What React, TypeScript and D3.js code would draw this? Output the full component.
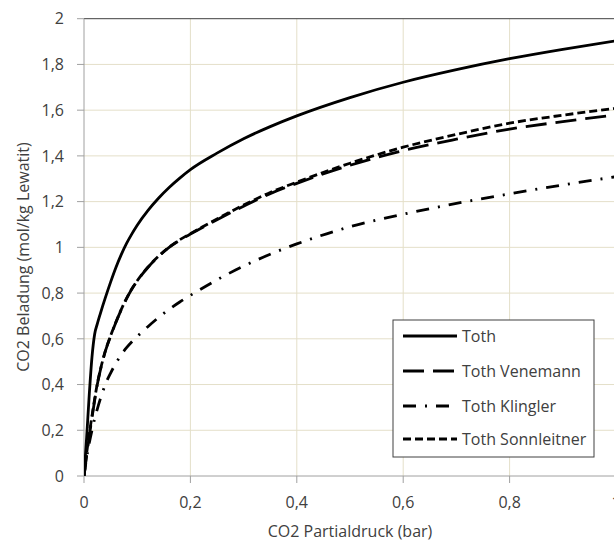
import React from "react";
import * as d3 from "d3";

const pressure = [0, 0.005, 0.01, 0.015, 0.02, 0.025, 0.03, 0.035, 0.04, 0.05, 0.06, 0.07, 0.08, 0.09, 0.1, 0.12, 0.14, 0.16, 0.18, 0.2, 0.25, 0.3, 0.35, 0.4, 0.5, 0.6, 0.7, 0.8, 0.9, 1.0];
const toth = [0, 0.17, 0.36, 0.52, 0.62, 0.665, 0.705, 0.743, 0.779, 0.848, 0.912, 0.968, 1.017, 1.059, 1.097, 1.161, 1.215, 1.262, 1.303, 1.34, 1.412, 1.475, 1.528, 1.575, 1.655, 1.722, 1.777, 1.825, 1.866, 1.903];
const tothVenemann = [0, 0.09, 0.175, 0.255, 0.33, 0.4, 0.455, 0.503, 0.545, 0.612, 0.672, 0.727, 0.776, 0.818, 0.853, 0.912, 0.96, 1.0, 1.031, 1.058, 1.121, 1.18, 1.235, 1.28, 1.359, 1.423, 1.473, 1.517, 1.55, 1.579];
const tothKlingler = [0, 0.08, 0.145, 0.2, 0.25, 0.293, 0.332, 0.367, 0.4, 0.45, 0.493, 0.53, 0.561, 0.587, 0.61, 0.653, 0.693, 0.729, 0.761, 0.79, 0.858, 0.918, 0.97, 1.015, 1.09, 1.145, 1.192, 1.234, 1.273, 1.309];
const tothSonnleitner = [0, 0.1, 0.185, 0.263, 0.336, 0.403, 0.457, 0.504, 0.546, 0.613, 0.673, 0.728, 0.777, 0.819, 0.854, 0.913, 0.961, 1.001, 1.033, 1.06, 1.124, 1.185, 1.24, 1.285, 1.368, 1.438, 1.494, 1.543, 1.578, 1.608];

const seriesNames = ["Toth", "Toth Venemann", "Toth Klingler", "Toth Sonnleitner"];
const seriesValues = [toth, tothVenemann, tothKlingler, tothSonnleitner];
const seriesDash = ["none", "21,9", "13,9,2,9", "8,4"];

const xTicks = [0, 0.2, 0.4, 0.6, 0.8, 1];
const yTicks = [0, 0.2, 0.4, 0.6, 0.8, 1, 1.2, 1.4, 1.6, 1.8, 2];
const xTitle = "CO2 Partialdruck (bar)";
const yTitle = "CO2 Beladung (mol/kg Lewatit)";

const fmt = (v: number) => String(v).replace(".", ",");

export default function App() {
  const W = 614, H = 547;
  const left = 84, right = 616, top = 18.7, bottom = 476;
  const x = d3.scaleLinear().domain([0, 1]).range([left, right]);
  const y = d3.scaleLinear().domain([0, 2]).range([bottom, top]);
  const line = d3.line<[number, number]>()
    .x((d) => x(d[0]))
    .y((d) => y(d[1]))
    .curve(d3.curveMonotoneX);
  const font = "'Open Sans', sans-serif";
  const textColor = "#404040";
  const grid = "#e4dfc9";
  const axis = "#a0a0a0";

  const legX = 393, legY = 320, legW = 201, legH = 137;
  const rowY = [336, 371, 406, 439];

  return (
    <svg width={W} height={H} style={{ position: "absolute", left: 0, top: 0, background: "#fff" }} fontFamily={font}>
      <defs>
        <clipPath id="plot">
          <rect x={left} y={top - 2} width={right - left} height={bottom - top + 2} />
        </clipPath>
      </defs>
      {yTicks.filter((t) => t > 0 && t < 2).map((t) => (
        <line key={"gy" + t} x1={left} x2={right} y1={y(t)} y2={y(t)} stroke={grid} strokeWidth={1} />
      ))}
      {xTicks.filter((t) => t > 0).map((t) => (
        <line key={"gx" + t} x1={x(t)} x2={x(t)} y1={top} y2={bottom} stroke={grid} strokeWidth={1} />
      ))}
      <line x1={left} x2={right} y1={y(2)} y2={y(2)} stroke="#404040" strokeWidth={1} />
      <line x1={left} x2={left} y1={top} y2={bottom} stroke={axis} strokeWidth={1} />
      <line x1={left} x2={right} y1={bottom} y2={bottom} stroke={axis} strokeWidth={1} />
      {yTicks.map((t) => (
        <g key={"ty" + t}>
          <line x1={left - 7} x2={left} y1={y(t)} y2={y(t)} stroke={axis} strokeWidth={1} />
          <text x={64} y={y(t)} dy="0.36em" textAnchor="end" fontSize={16} fill={textColor}>{fmt(t)}</text>
        </g>
      ))}
      {xTicks.map((t) => (
        <g key={"tx" + t}>
          <line x1={x(t)} x2={x(t)} y1={bottom} y2={bottom + 7} stroke={axis} strokeWidth={1} />
          <text x={x(t)} y={508} textAnchor="middle" fontSize={16} fill={textColor}>{fmt(t)}</text>
        </g>
      ))}
      <text x={350} y={537} textAnchor="middle" fontSize={16} fill={textColor}>{xTitle}</text>
      <text transform={`translate(29,257) rotate(-90)`} textAnchor="middle" fontSize={16} fill={textColor}>{yTitle}</text>
      <g clipPath="url(#plot)">
        {seriesValues.map((vals, i) => (
          <path
            key={seriesNames[i]}
            d={line(pressure.map((p, j) => [p, vals[j]] as [number, number])) || ""}
            fill="none"
            stroke="#000"
            strokeWidth={2.8}
            strokeDasharray={seriesDash[i]}
          />
        ))}
      </g>
      <rect x={legX} y={legY} width={legW} height={legH} fill="#fff" stroke="#404040" strokeWidth={1} />
      {seriesNames.map((n, i) => (
        <g key={"leg" + n}>
          <line x1={403} x2={457} y1={rowY[i]} y2={rowY[i]} stroke="#000" strokeWidth={2.8} strokeDasharray={seriesDash[i]} />
          <text x={462} y={rowY[i]} dy="0.36em" fontSize={16} fill={textColor}>{n}</text>
        </g>
      ))}
    </svg>
  );
}
